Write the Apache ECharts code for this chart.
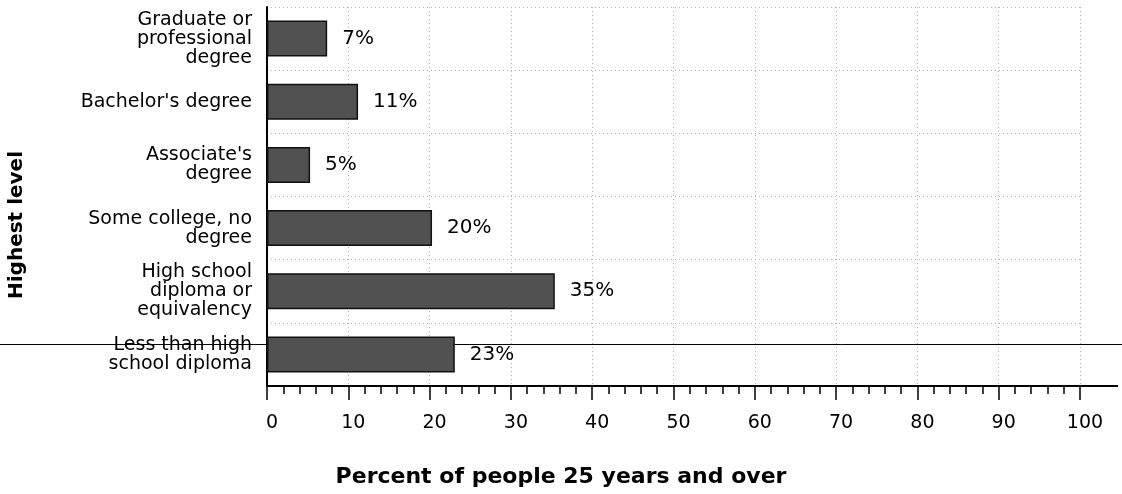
<!DOCTYPE html>
<html>
<head>
<meta charset="utf-8">
<script src="https://cdn.jsdelivr.net/npm/echarts@6/dist/echarts.min.js"></script>
<style>
html,body{margin:0;padding:0;background:#fff;}
#chart{width:1122px;height:494px;}
</style>
</head>
<body>
<div id="chart"></div>
<script>
const categories = [
  "Graduate or\nprofessional\ndegree",
  "Bachelor's degree",
  "Associate's\ndegree",
  "Some college, no\ndegree",
  "High school\ndiploma or\nequivalency",
  "Less than high\nschool diploma"
];
const percentValues = [7.4, 11.2, 5.3, 20.3, 35.4, 23.1];
const xTicks = [0, 10, 20, 30, 40, 50, 60, 70, 80, 90, 100];
const xTitle = "Percent of people 25 years and over";
const yTitle = "Highest level";

const chart = echarts.init(document.getElementById('chart'), null, {renderer: 'canvas'});
const option = {
  animation: false,
  backgroundColor: '#fff',
  grid: {left: 267, right: 42, top: 7, bottom: 108, containLabel: false},
  xAxis: {
    type: 'value',
    min: xTicks[0],
    max: xTicks[xTicks.length - 1],
    interval: 10,
    axisLine: {show: true, onZero: false, lineStyle: {color: '#000', width: 2}},
    axisTick: {show: true, length: 14, lineStyle: {color: '#000', width: 1.5}},
    minorTick: {show: true, splitNumber: 5, length: 8, lineStyle: {color: '#000', width: 1.5}},
    axisLabel: {
      margin: 28, color: '#000', fontFamily: 'DejaVu Sans', fontSize: 19,
      padding: [0, 0, 0, 10]
    },
    splitLine: {show: true, lineStyle: {color: '#b5b5b5', type: [1, 3], width: 1}}
  },
  yAxis: {
    type: 'category',
    data: categories,
    inverse: true,
    axisLine: {show: true, lineStyle: {color: '#000', width: 2}},
    axisTick: {show: false},
    axisLabel: {
      margin: 15, color: '#000', fontFamily: 'DejaVu Sans', fontSize: 19,
      lineHeight: 19, align: 'right'
    },
    splitLine: {show: true, lineStyle: {color: '#b5b5b5', type: [1, 3], width: 1}}
  },
  series: [{
    type: 'bar',
    data: percentValues,
    barWidth: 36,
    z: 5,
    itemStyle: {color: '#515151', borderColor: '#111', borderWidth: 1.5},
    label: {
      show: true, position: 'right', distance: 15, color: '#000',
      fontFamily: 'DejaVu Sans', fontSize: 20,
      formatter: p => Math.round(p.value) + '%'
    }
  }]
};
chart.setOption(option);

const rect = chart.getModel().getComponent('grid').coordinateSystem.getRect();
chart.setOption({
  graphic: [
    {
      type: 'line', z: 1,
      shape: {x1: 0, y1: 344.5, x2: 1122, y2: 344.5},
      style: {stroke: '#000', lineWidth: 1}
    },
    {
      type: 'line', z: 1,
      shape: {x1: rect.x + rect.width, y1: rect.y + rect.height, x2: 1118, y2: rect.y + rect.height},
      style: {stroke: '#000', lineWidth: 2}
    },
    {
      type: 'text', left: 'center', top: 466,
      style: {text: xTitle, fill: '#000', font: 'bold 22px "DejaVu Sans"'}
    },
    {
      type: 'text', x: 17, y: 225, rotation: Math.PI / 2,
      style: {text: yTitle, fill: '#000', font: 'bold 20px "DejaVu Sans"', align: 'center', verticalAlign: 'middle'}
    }
  ]
});
</script>
</body>
</html>
